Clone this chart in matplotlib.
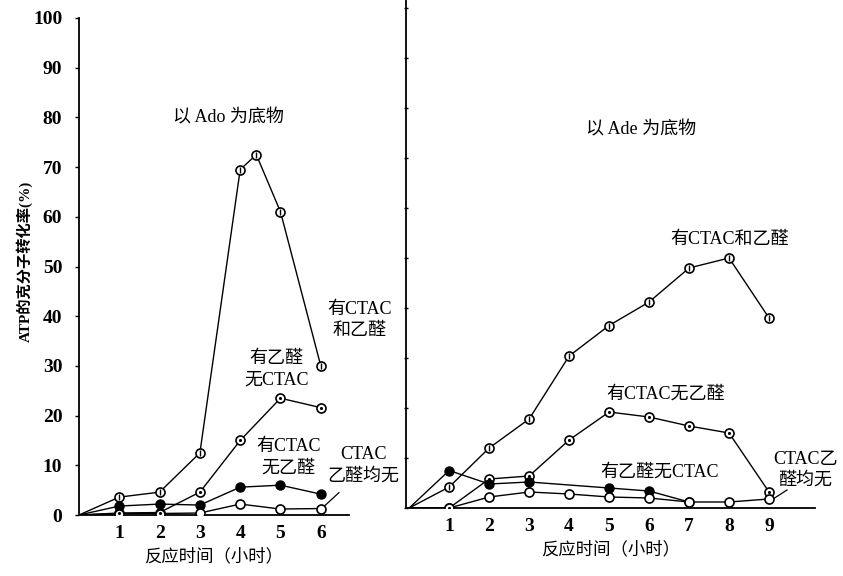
import numpy as np
import matplotlib.pyplot as plt

plt.rcParams['font.family'] = ['Liberation Serif', 'Noto Sans CJK SC']

# left panel: Ado as substrate
t_ado_a = [0, 1, 2, 3, 4, 4.4, 5, 6]
ado_ctac_ald = [0, 3.6, 4.6, 12.5, 69.5, 72.5, 61, 30]
t_ado = [0, 1, 2, 3, 4, 5, 6]
ado_ald_only = [0, 0.4, 0.5, 4.6, 15, 23.5, 21.6]
ado_ctac_only = [0, 1.8, 2.2, 2.0, 5.6, 6.0, 4.2]
ado_none = [0, 0.3, 0.3, 0.4, 2.2, 1.2, 1.3]

# right panel: Ade as substrate
t_ade = [0, 1, 2, 3, 4, 5, 6, 7, 8, 9]
ade_ctac_ald = [0, 4.2, 12, 17.8, 30.4, 36.5, 41.2, 48, 50, 38]
ade_ctac_only = [0, 0, 5.8, 6.4, 13.6, 19.2, 18.2, 16.4, 15, 3.2]
t_ade_f = [0, 1, 2, 3, 5, 6, 7]
ade_ald_only = [0, 7.5, 4.8, 5.2, 4.0, 3.4, 1.2]
ade_none = [0, 0, 2.2, 3.2, 2.8, 2.2, 2.0, 1.2, 1.2, 1.8]

yticks = list(range(0, 101, 10))

fig = plt.figure(figsize=(8.43, 5.76), dpi=100)
W, H = 843, 576


def px_axes(x0, x1, y0, y1):
    return fig.add_axes([x0 / W, 1 - y1 / H, (x1 - x0) / W, (y1 - y0) / H])


ms = 6.5
lw = 1.0
fs = 13


def series(ax, t, v, kind):
    mk = dict(color='black', lw=lw, markevery=slice(1, None), ms=ms, zorder=3)
    if kind == 'filled':
        ax.plot(t, v, marker='o', mfc='black', mec='black', **mk)
    else:
        ax.plot(t, v, marker='o', mfc='white', mec='black', mew=1.2, **mk)
        if kind == 'bar':
            ax.plot(t[1:], v[1:], ls='none', marker='|', ms=ms * 0.75,
                    color='black', mew=1.0, zorder=4)
        elif kind == 'dot':
            ax.plot(t[1:], v[1:], ls='none', marker='.', ms=2.5,
                    color='black', zorder=4)


def style(ax):
    for s in ['top', 'right']:
        ax.spines[s].set_visible(False)
    for s in ['left', 'bottom']:
        ax.spines[s].set_linewidth(1.3)
    ax.tick_params(axis='x', length=0, pad=7, labelsize=14)
    for lab in ax.get_xticklabels():
        lab.set_fontweight('bold')


# ---- left ----
ax1 = px_axes(79, 349, 18, 515)
ax1.set_xlim(0, 6.7)
ax1.set_ylim(0, 100)
series(ax1, t_ado_a, ado_ctac_ald, 'bar')
series(ax1, t_ado, ado_ald_only, 'dot')
series(ax1, t_ado, ado_ctac_only, 'filled')
series(ax1, t_ado, ado_none, 'open')
ax1.set_xticks(range(1, 7))
ax1.set_yticks(yticks)
ax1.set_yticklabels([str(v) for v in yticks], fontsize=14, fontweight='bold')
ax1.tick_params(axis='y', length=3, width=1, direction='out', pad=9)
style(ax1)
ax1.set_ylabel('ATP的克分子转化率(%)', fontsize=11, fontweight='bold')
ax1.yaxis.set_label_coords(-46 / 270, 0.51)
ax1.set_xlabel('反应时间（小时）', fontsize=12.5, labelpad=5)

ax1.text(3.7, 80, '以 Ado 为底物', fontsize=fs, ha='center', va='center')
ax1.text(6.95, 39.2, '有CTAC\n和乙醛', fontsize=fs, ha='center', va='center',
         linespacing=1.3, clip_on=False)
ax1.text(4.9, 29.3, '有乙醛\n无CTAC', fontsize=fs, ha='center', va='center',
         linespacing=1.3)
ax1.text(5.2, 11.6, '有CTAC\n无乙醛', fontsize=fs, ha='center', va='center',
         linespacing=1.3)
ax1.text(7.05, 10, 'CTAC\n乙醛均无', fontsize=fs, ha='center', va='center',
         linespacing=1.4, clip_on=False)
ax1.plot([6.45, 6.05], [4.5, 1.5], color='black', lw=0.9, clip_on=False)

# ---- right ----
ax2 = px_axes(406, 815, 0, 508)
ax2.set_xlim(-0.08, 10.15)
ax2.set_ylim(0, 101.6)
series(ax2, t_ade, ade_ctac_ald, 'bar')
series(ax2, t_ade, ade_ctac_only, 'dot')
series(ax2, t_ade_f, ade_ald_only, 'filled')
series(ax2, t_ade, ade_none, 'open')
ax2.set_xticks(range(1, 10))
ax2.set_yticks(yticks)
ax2.set_yticklabels([])
ax2.tick_params(axis='y', length=3, width=1, direction='inout')
style(ax2)
ax2.set_xlabel('反应时间（小时）', fontsize=12.5, labelpad=5)

ax2.text(5.8, 75.6, '以 Ade 为底物', fontsize=fs, ha='center', va='center')
ax2.text(8.0, 53.7, '有CTAC和乙醛', fontsize=fs, ha='center', va='center')
ax2.text(6.4, 22.8, '有CTAC无乙醛', fontsize=fs, ha='center', va='center')
ax2.text(6.27, 7.2, '有乙醛无CTAC', fontsize=fs, ha='center', va='center')
ax2.text(9.9, 7.7, 'CTAC乙\n醛均无', fontsize=fs, ha='center', va='center',
         linespacing=1.3, clip_on=False)
ax2.plot([9.45, 9.1], [3.6, 1.8], color='black', lw=0.9, clip_on=False)

fig.savefig('out.png', dpi=100)
